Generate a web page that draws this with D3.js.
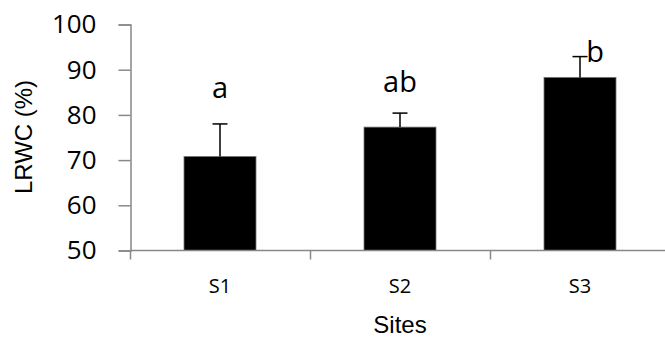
<!DOCTYPE html>
<html>
<head>
<meta charset="utf-8">
<script src="https://cdn.jsdelivr.net/npm/d3@7"></script>
<style>
  body { margin: 0; background: #fff; }
</style>
</head>
<body>
<script>
var sites = ['S1', 'S2', 'S3'];
var lrwc = [70.8, 77.3, 88.3];
var lrwcErr = [7.2, 3.1, 4.6];
var letters = ['a', 'ab', 'b'];
var letterAt = [83.7, 85.1, 91.7];   // where the letters sit, in % units
var yTicks = [50, 60, 70, 80, 90, 100];

var W = 665, H = 337;

var svg = d3.select('body')
    .append('svg')
    .attr('width', W)
    .attr('height', H)

var x = d3.scaleBand()
    .domain(sites)
    .range([130, 670])
    .paddingInner(0)

var y = d3.scaleLinear()
    .domain([50, 100])
    .range([250.5, 24.5])

var barW = x.bandwidth() * 0.4;
var axisColor = '#888';

// bars
svg.selectAll('.bar')
    .data(sites)
    .enter()
    .append('rect')
    .attr('class', 'bar')
    .attr('x', d => x(d) + (x.bandwidth() - barW) / 2)
    .attr('y', (d, i) => y(lrwc[i]))
    .attr('width', barW)
    .attr('height', (d, i) => y(50) - y(lrwc[i]))
    .attr('fill', '#000')
    .attr('stroke', '#777')
    .attr('stroke-width', 0.8)

// error bars (upper only)
var eb = svg.selectAll('.err')
    .data(sites)
    .enter()
    .append('g')
    .attr('class', 'err')
    .attr('stroke', '#000')
    .attr('stroke-width', 1.5)

eb.append('line')
    .attr('x1', d => x(d) + x.bandwidth() / 2)
    .attr('x2', d => x(d) + x.bandwidth() / 2)
    .attr('y1', (d, i) => y(lrwc[i]))
    .attr('y2', (d, i) => y(lrwc[i] + lrwcErr[i]))

eb.append('line')
    .attr('x1', d => x(d) + x.bandwidth() / 2 - 7.5)
    .attr('x2', d => x(d) + x.bandwidth() / 2 + 7.5)
    .attr('y1', (d, i) => y(lrwc[i] + lrwcErr[i]))
    .attr('y2', (d, i) => y(lrwc[i] + lrwcErr[i]))

// significance letters
svg.selectAll('.letter')
    .data(letters)
    .enter()
    .append('text')
    .attr('class', 'letter')
    .attr('x', (d, i) => x(sites[i]) + x.bandwidth() / 2 + (i == 2 ? 15 : 0))
    .attr('y', (d, i) => y(letterAt[i]))
    .attr('text-anchor', 'middle')
    .style('font-family', '"Open Sans", sans-serif')
    .style('font-size', '29px')
    .attr('fill', '#000')
    .text(d => d)

// y axis
var yAxis = svg.append('g')
    .attr('transform', 'translate(130.5,0)')
    .call(d3.axisLeft(y).tickValues(yTicks).tickSize(12).tickPadding(22))

yAxis.selectAll('text')
    .style('font-family', '"Open Sans", sans-serif')
    .style('font-size', '26px')
    .attr('fill', '#000')

// x axis: ticks sit on the category boundaries
var xAxis = svg.append('g')
    .attr('transform', 'translate(0,' + y(50) + ')')

xAxis.append('line')
    .attr('x1', 130)
    .attr('x2', 670)
    .attr('stroke', axisColor)
    .attr('stroke-width', 1.5)

xAxis.selectAll('.xt')
    .data(sites)
    .enter()
    .append('line')
    .attr('x1', d => x(d) + 0.5)
    .attr('x2', d => x(d) + 0.5)
    .attr('y1', 0)
    .attr('y2', 9)
    .attr('stroke', axisColor)
    .attr('stroke-width', 1.5)

xAxis.selectAll('.xl')
    .data(sites)
    .enter()
    .append('text')
    .attr('x', d => x(d) + x.bandwidth() / 2)
    .attr('y', 42)
    .attr('text-anchor', 'middle')
    .style('font-family', '"Open Sans", sans-serif')
    .style('font-size', '20px')
    .attr('fill', '#000')
    .text(d => d)

yAxis.select('.domain').attr('stroke', axisColor).attr('stroke-width', 1.5)
yAxis.selectAll('.tick line').attr('stroke', axisColor).attr('stroke-width', 1.5)

// axis titles
svg.append('text')
    .attr('x', 400)
    .attr('y', 333)
    .attr('text-anchor', 'middle')
    .style('font-family', '"Liberation Sans", Arial, sans-serif')
    .style('font-size', '24px')
    .attr('fill', '#000')
    .text('Sites')

svg.append('text')
    .attr('transform', 'translate(32,137) rotate(-90)')
    .attr('text-anchor', 'middle')
    .style('font-family', '"Liberation Sans", Arial, sans-serif')
    .style('font-size', '24px')
    .attr('fill', '#000')
    .text('LRWC (%)')
</script>
</body>
</html>
